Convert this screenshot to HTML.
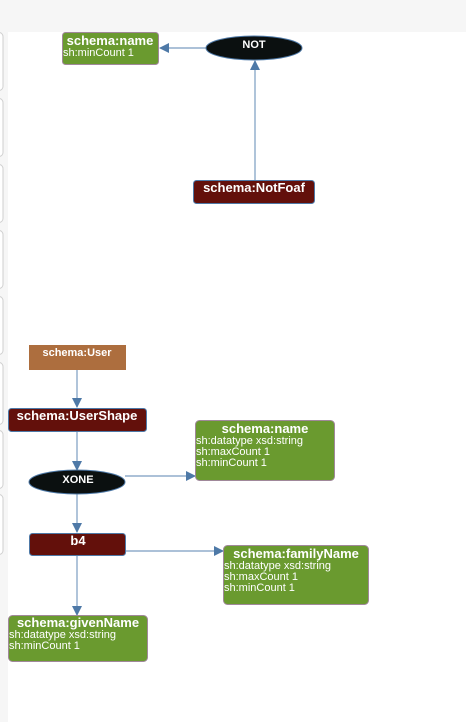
<!DOCTYPE html>
<html><head><style>
html,body{margin:0;padding:0;width:466px;height:722px;overflow:hidden;background:#fff;font-family:"Liberation Sans",Arial,sans-serif}
</style></head><body>
<svg width="466" height="722" xmlns="http://www.w3.org/2000/svg" font-family="Liberation Sans, Arial, sans-serif">
<rect x="0" y="0" width="466" height="32" fill="#f6f6f6"/>
<rect x="0" y="0" width="8" height="722" fill="#f6f6f6"/>
<g fill="#fff" stroke="#cfcfcf" stroke-width="1">
<rect x="-10" y="32.5" width="13" height="58" rx="4"/>
<rect x="-10" y="98.5" width="13" height="58" rx="4"/>
<rect x="-10" y="164.5" width="13" height="58" rx="4"/>
<rect x="-10" y="230.5" width="13" height="58" rx="4"/>
<rect x="-10" y="296.5" width="13" height="58" rx="4"/>
<rect x="-10" y="362.5" width="13" height="62" rx="4"/>
<rect x="-10" y="430.5" width="13" height="58" rx="4"/>
<rect x="-10" y="494.5" width="13" height="60" rx="4"/>
</g>
<defs><marker id="a" markerWidth="10" markerHeight="10" refX="9" refY="5" orient="auto" markerUnits="userSpaceOnUse"><path d="M0,0 L10,5 L0,10 z" fill="#4e79a7"/></marker></defs>
<g stroke="#7a9cc0" stroke-width="1.2" fill="none">
<line x1="207" y1="48" x2="160" y2="48" marker-end="url(#a)"/>
<line x1="255" y1="180" x2="255" y2="61" marker-end="url(#a)"/>
<line x1="77" y1="370" x2="77" y2="407" marker-end="url(#a)"/>
<line x1="77" y1="432" x2="77" y2="470" marker-end="url(#a)"/>
<line x1="125" y1="476" x2="195" y2="476" marker-end="url(#a)"/>
<line x1="77" y1="494" x2="77" y2="532" marker-end="url(#a)"/>
<line x1="126" y1="551" x2="223" y2="551" marker-end="url(#a)"/>
<line x1="77" y1="556" x2="77" y2="615" marker-end="url(#a)"/>
</g>
<rect x="62.5" y="32.5" width="96" height="32" rx="3" fill="#6a9a2f" stroke="#a0889a"/>
<text x="110" y="45" fill="#fff" font-size="13" font-weight="bold" text-anchor="middle">schema:name</text>
<text x="63" y="56" fill="#fff" font-size="11">sh:minCount 1</text>
<ellipse cx="254" cy="48" rx="48" ry="12" fill="#0b1010" stroke="#4e79a7"/>
<text x="254" y="48" fill="#fff" font-size="11" font-weight="bold" text-anchor="middle">NOT</text>
<rect x="193.5" y="180.5" width="121" height="23" rx="3" fill="#63100b" stroke="#4e79a7"/>
<text x="254" y="192" fill="#fff" font-size="13" font-weight="bold" text-anchor="middle">schema:NotFoaf</text>
<rect x="29" y="345" width="97" height="25" fill="#ad6e3e"/>
<text x="77" y="356" fill="#fff" font-size="11" font-weight="bold" text-anchor="middle">schema:User</text>
<rect x="8.5" y="408.5" width="138" height="23" rx="3" fill="#63100b" stroke="#4e79a7"/>
<text x="77" y="420" fill="#fff" font-size="13" font-weight="bold" text-anchor="middle">schema:UserShape</text>
<ellipse cx="77" cy="482" rx="48" ry="12" fill="#0b1010" stroke="#4e79a7"/>
<text x="78" y="483" fill="#fff" font-size="11" font-weight="bold" text-anchor="middle">XONE</text>
<rect x="29.5" y="533.5" width="96" height="22" rx="3" fill="#63100b" stroke="#4e79a7"/>
<text x="78" y="545" fill="#fff" font-size="13" font-weight="bold" text-anchor="middle">b4</text>
<rect x="195.5" y="420.5" width="139" height="60" rx="4" fill="#6a9a2f" stroke="#a0889a"/>
<text x="265" y="433" fill="#fff" font-size="13" font-weight="bold" text-anchor="middle">schema:name</text>
<text x="196" y="444" fill="#fff" font-size="11">sh:datatype xsd:string</text>
<text x="196" y="455" fill="#fff" font-size="11">sh:maxCount 1</text>
<text x="196" y="466" fill="#fff" font-size="11">sh:minCount 1</text>
<rect x="223.5" y="545.5" width="145" height="59" rx="4" fill="#6a9a2f" stroke="#a0889a"/>
<text x="296" y="558" fill="#fff" font-size="13" font-weight="bold" text-anchor="middle">schema:familyName</text>
<text x="224" y="569" fill="#fff" font-size="11">sh:datatype xsd:string</text>
<text x="224" y="580" fill="#fff" font-size="11">sh:maxCount 1</text>
<text x="224" y="591" fill="#fff" font-size="11">sh:minCount 1</text>
<rect x="8.5" y="615.5" width="139" height="46" rx="4" fill="#6a9a2f" stroke="#a0889a"/>
<text x="78" y="627" fill="#fff" font-size="13" font-weight="bold" text-anchor="middle">schema:givenName</text>
<text x="9" y="638" fill="#fff" font-size="11">sh:datatype xsd:string</text>
<text x="9" y="649" fill="#fff" font-size="11">sh:minCount 1</text>
</svg>
</body></html>
